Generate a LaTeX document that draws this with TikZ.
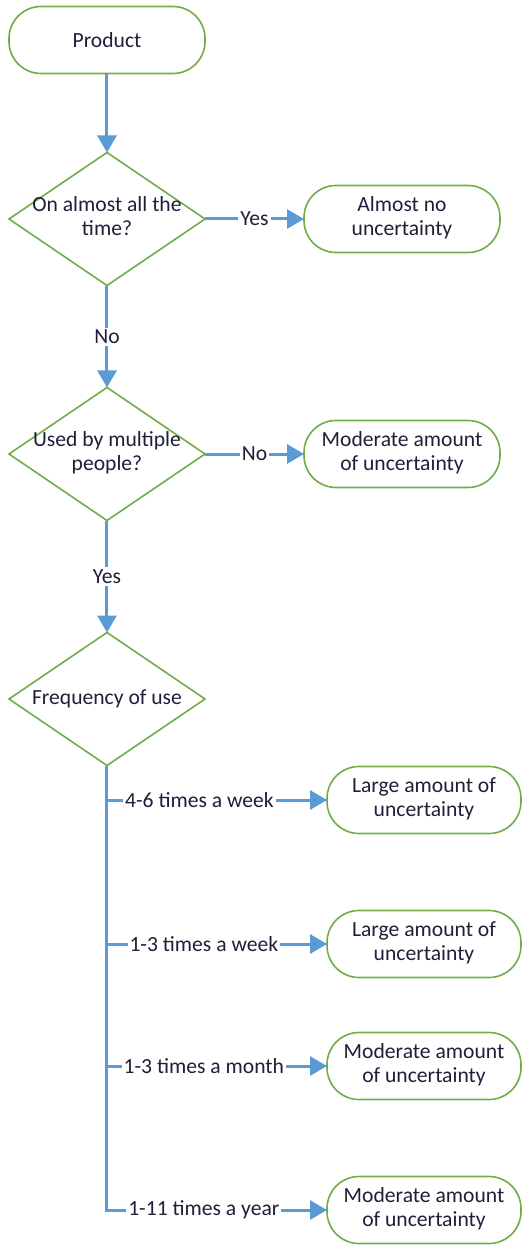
\documentclass[tikz,border=0pt]{standalone}
\usepackage{fontspec}
\setmainfont{Carlito}
\usepackage{tikz}
\usetikzlibrary{positioning, arrows.meta, shapes.geometric}
\definecolor{flowgreen}{HTML}{70AD47}
\definecolor{flowblue}{HTML}{5B9BD5}
\definecolor{flowtext}{HTML}{1F1F3A}

\begin{document}
\begin{tikzpicture}[font=\fontsize{10.8}{12}\selectfont,
  every node/.style={text=flowtext},
  terminal/.style={rectangle, draw=flowgreen, line width=0.8pt, rounded corners=16pt,
    minimum width=98pt, minimum height=33.5pt, inner sep=0pt, outer sep=0pt},
  decision/.style={diamond, draw=flowgreen, line width=0.8pt,
    minimum width=98pt, minimum height=66.5pt, inner sep=0pt, outer sep=0pt},
  flow/.style={draw=flowblue, line width=1.5pt, -{Triangle[length=8.5pt, width=9.5pt]}},
  choice/.style={fill=white, inner sep=1pt}]

  \path [use as bounding box] (-53.5pt,20pt) rectangle (207.5pt,-603.5pt);

  % nodes
  \node [terminal] (product) at (0,0) {Product};

  \node [decision] (alwayson) [below = 39.5pt of product]
  {\makebox[0pt]{\begin{tabular}{c} On almost all the \\ time? \end{tabular}}};

  \node [terminal] (nounc) [right = 49.5pt of alwayson]
  {\begin{tabular}{c} Almost no \\ uncertainty \end{tabular}};

  \node [decision] (shared) [below = 51pt of alwayson]
  {\makebox[0pt]{\begin{tabular}{c} Used by multiple \\ people? \end{tabular}}};

  \node [terminal] (modunc) [right = 49.5pt of shared]
  {\begin{tabular}{c} Moderate amount \\ of uncertainty \end{tabular}};

  \node [decision] (freq) [below = 56pt of shared]
  {\makebox[0pt]{Frequency of use}};

  % outcomes of the frequency
  \node [terminal, minimum width=97pt, anchor=west] (weekly)
  [right = 110pt of freq.center, yshift=-50.5pt]
  {\begin{tabular}{c} Large amount of \\ uncertainty \end{tabular}};

  \node [terminal, minimum width=97pt] (fewweek) [below = 38.5pt of weekly]
  {\begin{tabular}{c} Large amount of \\ uncertainty \end{tabular}};

  \node [terminal, minimum width=97pt] (monthly) [below = 27.5pt of fewweek]
  {\begin{tabular}{c} Moderate amount \\ of uncertainty \end{tabular}};

  \node [terminal, minimum width=97pt] (yearly) [below = 38.5pt of monthly]
  {\begin{tabular}{c} Moderate amount \\ of uncertainty \end{tabular}};

  % edges
  \draw [flow] (product) -- (alwayson);
  \draw [flow] (alwayson) -- node [choice] {Yes} (nounc);
  \draw [flow] (alwayson) -- node [choice] {No} (shared);
  \draw [flow] (shared) -- node [choice] {No} (modunc);
  \draw [flow] (shared) -- node [choice] {Yes} (freq);

  \draw [flow] (freq.south) |- node [choice, pos=0.71] {4-6 times a week} (weekly.west);
  \draw [flow] (freq.south) |- node [choice, pos=0.72] {1-3 times a week} (fewweek.west);
  \draw [flow] (freq.south) |- node [choice, pos=0.72] {1-3 times a month} (monthly.west);
  \draw [flow] (freq.south) |- node [choice, pos=0.72] {1-11 times a year} (yearly.west);
\end{tikzpicture}
\end{document}
